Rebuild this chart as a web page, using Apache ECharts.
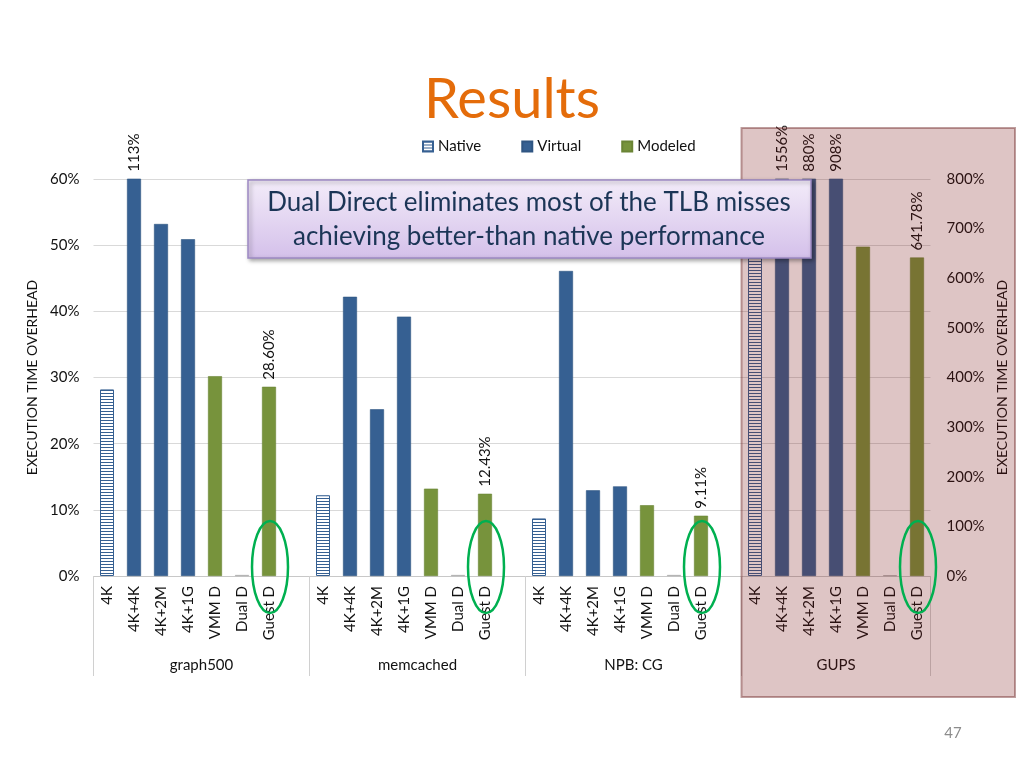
<!DOCTYPE html>
<html>
<head>
<meta charset="utf-8">
<script src="https://cdn.jsdelivr.net/npm/echarts@6/dist/echarts.min.js"></script>
<style>
  html, body { margin: 0; padding: 0; background: #ffffff; }
  #chart { width: 1024px; height: 768px; }
</style>
</head>
<body>
<div id="chart"></div>
<script>
// ---- data ----
const groups = ['graph500', 'memcached', 'NPB: CG', 'GUPS'];
const configs = ['4K', '4K+4K', '4K+2M', '4K+1G', 'VMM D', 'Dual D', 'Guest D'];
const kindOfConfig = ['Native', 'Virtual', 'Virtual', 'Virtual', 'Modeled', 'Modeled', 'Modeled'];
// execution time overhead (%) per config, per workload
const graph500 = [28.2, 113, 53.2, 50.9, 30.2, 0.15, 28.60];
const memcached = [12.2, 42.2, 25.2, 39.2, 13.2, 0.15, 12.43];
const npbCG = [8.7, 46.1, 12.95, 13.55, 10.7, 0.15, 9.11];
const gups = [720, 1556, 880, 908, 663.6, 1.5, 641.78];
const leftTicks = [0, 10, 20, 30, 40, 50, 60];
const rightTicks = [0, 100, 200, 300, 400, 500, 600, 700, 800];
const seriesNames = ['Native', 'Virtual', 'Modeled'];

const groupValues = [graph500, memcached, npbCG, gups];
const groupAxis = [0, 0, 0, 1];           // GUPS uses the right axis
const axisMax = [60, 800];

// slots: 7 configs + 1 blank between groups
const slots = [];
const slotGroup = [];
const slotConfig = [];
groups.forEach((g, gi) => {
  configs.forEach((c, ci) => { slots.push(c); slotGroup.push(gi); slotConfig.push(ci); });
  if (gi < groups.length - 1) { slots.push(''); slotGroup.push(-1); slotConfig.push(-1); }
});

const blue = '#366092';
const olive = '#77933C';

// striped pattern for Native
const pc = document.createElement('canvas');
pc.width = 4; pc.height = 3;
const pctx = pc.getContext('2d');
pctx.fillStyle = '#ffffff'; pctx.fillRect(0, 0, 4, 3);
pctx.fillStyle = blue; pctx.fillRect(0, 0, 4, 1);
const nativePattern = { image: pc, repeat: 'repeat' };

const colors = { Native: nativePattern, Virtual: blue, Modeled: olive };

function labelText(p) {
  const v = p.value;
  if (slotConfig[p.dataIndex] === 6) return v.toFixed(2) + '%';
  return Math.round(v) + '%';
}

const series = [];
[0, 1].forEach(ax => {
  seriesNames.forEach(name => {
    const data = slots.map((s, i) => {
      const gi = slotGroup[i], ci = slotConfig[i];
      if (gi < 0 || groupAxis[gi] !== ax || kindOfConfig[ci] !== name) return null;
      const v = groupValues[gi][ci];
      const item = { value: v };
      if (ci === 6 || v > axisMax[ax]) item.label = { show: true };
      if (ci === 5) item.itemStyle = { color: '#a6a6a6', borderColor: '#a6a6a6' };
      return item;
    });
    series.push({
      name: name,
      type: 'bar',
      xAxisIndex: 0,
      yAxisIndex: ax,
      data: data,
      barWidth: 14,
      barGap: '-100%',
      clip: true,
      itemStyle: {
        color: colors[name],
        borderColor: name === 'Native' ? blue : (name === 'Virtual' ? '#2f5582' : '#6a8435'),
        borderWidth: name === 'Native' ? 1 : 0.6
      },
      label: {
        show: false,
        position: 'top',
        distance: 7,
        rotate: 90,
        align: 'left',
        verticalAlign: 'middle',
        fontFamily: 'Lato',
        fontSize: 15,
        color: '#111',
        formatter: labelText
      },
      emphasis: { disabled: true }
    });
  });
});

const groupCenters = [4, 12, 20, 27.5];
const groupBounds = [0, 8, 16, 24, 31];

const chart = echarts.init(document.getElementById('chart'), null, { renderer: 'canvas' });
const baseFont = 'Lato';
chart.setOption({
  animation: false,
  backgroundColor: '#ffffff',
  textStyle: { fontFamily: baseFont },
  title: {
    text: 'Results',
    left: 'center',
    top: 67,
    textStyle: { fontFamily: baseFont, fontSize: 56, fontWeight: 'normal', color: '#E46C0A' }
  },
  legend: {
    data: seriesNames,
    left: 417,
    top: 134,
    itemWidth: 10,
    itemHeight: 10,
    itemGap: 40,
    icon: 'rect',
    textStyle: { fontFamily: baseFont, fontSize: 15, color: '#111' },
    selectedMode: false
  },
  grid: { left: 93.5, right: 93.5, top: 179, bottom: 192, outerBoundsMode: 'none' },
  xAxis: [
    {
      type: 'category',
      data: slots,
      boundaryGap: true,
      axisLine: { lineStyle: { color: '#c8c8c8' } },
      axisTick: { show: false },
      axisLabel: {
        interval: 0, rotate: 90, margin: 10,
        fontFamily: baseFont, fontSize: 15, color: '#111'
      },
      splitLine: { show: false }
    },
    {
      type: 'value',
      min: 0, max: 31,
      position: 'bottom',
      axisLine: { show: false },
      axisTick: { show: true, customValues: groupBounds, length: 100, inside: false, lineStyle: { color: '#d0d0d0' } },
      axisLabel: {
        customValues: groupCenters,
        margin: 82,
        fontFamily: baseFont, fontSize: 15, color: '#111',
        formatter: v => groups[groupCenters.indexOf(v)] || ''
      },
      splitLine: { show: false }
    }
  ],
  yAxis: [
    {
      type: 'value', min: 0, max: 60, interval: 10,
      axisLine: { show: false }, axisTick: { show: false },
      axisLabel: { formatter: '{value}%', margin: 14, fontFamily: baseFont, fontSize: 15, color: '#111' },
      splitLine: { lineStyle: { color: '#d9d9d9' } },
      name: 'EXECUTION TIME OVERHEAD', nameLocation: 'middle', nameGap: 53, nameRotate: 90,
      nameTextStyle: { fontFamily: baseFont, fontSize: 14, color: '#111' }
    },
    {
      type: 'value', min: 0, max: 800, interval: 100, position: 'right',
      axisLine: { show: false }, axisTick: { show: false },
      axisLabel: { formatter: '{value}%', margin: 16, fontFamily: baseFont, fontSize: 15, color: '#111' },
      splitLine: { show: false },
      name: 'EXECUTION TIME OVERHEAD', nameLocation: 'middle', nameGap: 63, nameRotate: 90,
      nameTextStyle: { fontFamily: baseFont, fontSize: 14, color: '#111' }
    }
  ],
  series: series
});

// annotations: GUPS highlight, callout box, ellipses around Guest D bars
const guestSlots = [];
slotConfig.forEach((c, i) => { if (c === 6) guestSlots.push(i); });
const ellipses = guestSlots.map(i => {
  const p = chart.convertToPixel({ xAxisIndex: 0, yAxisIndex: 0 }, [i, 0]);
  return {
    type: 'ellipse',
    shape: { cx: p[0] + 1, cy: p[1] - 9, rx: 18, ry: 46 },
    style: { fill: 'none', stroke: '#00B050', lineWidth: 2.5 },
    z: 200
  };
});
const gupsLeft = chart.convertToPixel({ xAxisIndex: 0, yAxisIndex: 0 }, [24, 0])[0] - 13.5;

chart.setOption({
  graphic: [
    {
      type: 'rect',
      shape: { x: gupsLeft, y: 128, width: 1015 - gupsLeft, height: 569 },
      style: { fill: 'rgba(125,25,25,0.25)', stroke: 'rgba(110,40,40,0.45)', lineWidth: 2 },
      z: 100
    },
    {
      type: 'group',
      z: 150,
      children: [
        {
          type: 'rect',
          shape: { x: 248, y: 180, width: 563, height: 78 },
          style: {
            fill: new echarts.graphic.LinearGradient(0, 0, 0, 1, [
              { offset: 0, color: '#f3ecf9' },
              { offset: 1, color: '#d4c0ea' }
            ]),
            stroke: '#9d89c4', lineWidth: 1.5,
            shadowBlur: 4, shadowOffsetX: 2, shadowOffsetY: 2, shadowColor: 'rgba(0,0,0,0.35)'
          },
          z: 150
        },
        {
          type: 'text',
          style: {
            x: 529, y: 203, text: 'Dual Direct eliminates most of the TLB misses',
            align: 'center', verticalAlign: 'middle',
            font: '26px Lato', fill: '#1B3556'
          },
          z: 151
        },
        {
          type: 'text',
          style: {
            x: 529, y: 237, text: 'achieving better-than native performance',
            align: 'center', verticalAlign: 'middle',
            font: '26px Lato', fill: '#1B3556'
          },
          z: 151
        }
      ]
    },
    ...ellipses,
    {
      type: 'text',
      style: { x: 953, y: 733, text: '47', align: 'center', verticalAlign: 'middle', font: '15px Lato', fill: '#8c8c8c' },
      z: 10
    }
  ]
});
</script>
</body>
</html>
